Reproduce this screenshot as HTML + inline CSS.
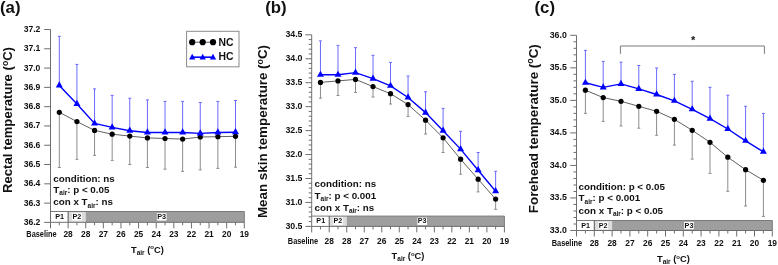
<!DOCTYPE html>
<html><head><meta charset="utf-8"><style>
html,body{margin:0;padding:0;background:#fff;width:778px;height:265px;overflow:hidden}
svg{display:block;filter:blur(0.4px)}
text{font-family:'Liberation Sans',sans-serif;font-weight:bold;fill:#111}
</style></head><body>
<svg width="778" height="265" viewBox="0 0 778 265">
<defs>
<pattern id="hatch" width="2.5" height="2.5" patternUnits="userSpaceOnUse">
<rect width="2.5" height="2.5" fill="#a4a4a4"/>
<path d="M0,0 L2.5,2.5 M2.5,0 L0,2.5" stroke="#939393" stroke-width="0.5"/>
</pattern>
</defs>
<rect x="50.5" y="211.5" width="17.62" height="10.8" fill="#fff"/>
<rect x="68.12" y="211.5" width="17.62" height="10.8" fill="#dcdcdc"/>
<rect x="85.74" y="211.5" width="158.56" height="10.8" fill="url(#hatch)"/>
<line x1="50.5" y1="211.5" x2="244.3" y2="211.5" stroke="#7a7a7a" stroke-width="1" />
<line x1="244.3" y1="211.5" x2="244.3" y2="222.3" stroke="#7a7a7a" stroke-width="1" />
<line x1="68.12" y1="211.5" x2="68.12" y2="222.3" stroke="#555" stroke-width="1" />
<rect x="54.81" y="213.2" width="9.6" height="7.4" fill="#fff"/>
<text x="59.61" y="219" font-size="7.2" text-anchor="middle" >P1</text>
<rect x="72.13" y="213.2" width="9.6" height="7.4" fill="#fff"/>
<text x="76.93" y="219" font-size="7.2" text-anchor="middle" >P2</text>
<rect x="156.9" y="213.2" width="9.6" height="7.4" fill="#fff"/>
<text x="161.7" y="219" font-size="7.2" text-anchor="middle" >P3</text>
<line x1="59.31" y1="112.3" x2="59.31" y2="167.5" stroke="#8c8c8c" stroke-width="1" />
<line x1="57.81" y1="167.5" x2="60.81" y2="167.5" stroke="#8c8c8c" stroke-width="1" />
<line x1="76.93" y1="121.6" x2="76.93" y2="159.3" stroke="#8c8c8c" stroke-width="1" />
<line x1="75.43" y1="159.3" x2="78.43" y2="159.3" stroke="#8c8c8c" stroke-width="1" />
<line x1="94.55" y1="130.4" x2="94.55" y2="155.4" stroke="#8c8c8c" stroke-width="1" />
<line x1="93.05" y1="155.4" x2="96.05" y2="155.4" stroke="#8c8c8c" stroke-width="1" />
<line x1="112.16" y1="134.2" x2="112.16" y2="160.4" stroke="#8c8c8c" stroke-width="1" />
<line x1="110.66" y1="160.4" x2="113.66" y2="160.4" stroke="#8c8c8c" stroke-width="1" />
<line x1="129.78" y1="136.1" x2="129.78" y2="164.5" stroke="#8c8c8c" stroke-width="1" />
<line x1="128.28" y1="164.5" x2="131.28" y2="164.5" stroke="#8c8c8c" stroke-width="1" />
<line x1="147.4" y1="137.9" x2="147.4" y2="167.5" stroke="#8c8c8c" stroke-width="1" />
<line x1="145.9" y1="167.5" x2="148.9" y2="167.5" stroke="#8c8c8c" stroke-width="1" />
<line x1="165.02" y1="138.5" x2="165.02" y2="169.2" stroke="#8c8c8c" stroke-width="1" />
<line x1="163.52" y1="169.2" x2="166.52" y2="169.2" stroke="#8c8c8c" stroke-width="1" />
<line x1="182.64" y1="139.1" x2="182.64" y2="171.4" stroke="#8c8c8c" stroke-width="1" />
<line x1="181.14" y1="171.4" x2="184.14" y2="171.4" stroke="#8c8c8c" stroke-width="1" />
<line x1="200.25" y1="137" x2="200.25" y2="169.9" stroke="#8c8c8c" stroke-width="1" />
<line x1="198.75" y1="169.9" x2="201.75" y2="169.9" stroke="#8c8c8c" stroke-width="1" />
<line x1="217.87" y1="136.7" x2="217.87" y2="168.4" stroke="#8c8c8c" stroke-width="1" />
<line x1="216.37" y1="168.4" x2="219.37" y2="168.4" stroke="#8c8c8c" stroke-width="1" />
<line x1="235.49" y1="136.3" x2="235.49" y2="167.2" stroke="#8c8c8c" stroke-width="1" />
<line x1="233.99" y1="167.2" x2="236.99" y2="167.2" stroke="#8c8c8c" stroke-width="1" />
<line x1="59.31" y1="85.5" x2="59.31" y2="36.3" stroke="#6a6aff" stroke-width="1" />
<line x1="57.81" y1="36.3" x2="60.81" y2="36.3" stroke="#6a6aff" stroke-width="1" />
<line x1="76.93" y1="104" x2="76.93" y2="64.4" stroke="#6a6aff" stroke-width="1" />
<line x1="75.43" y1="64.4" x2="78.43" y2="64.4" stroke="#6a6aff" stroke-width="1" />
<line x1="94.55" y1="123.4" x2="94.55" y2="88.9" stroke="#6a6aff" stroke-width="1" />
<line x1="93.05" y1="88.9" x2="96.05" y2="88.9" stroke="#6a6aff" stroke-width="1" />
<line x1="112.16" y1="127.4" x2="112.16" y2="95.4" stroke="#6a6aff" stroke-width="1" />
<line x1="110.66" y1="95.4" x2="113.66" y2="95.4" stroke="#6a6aff" stroke-width="1" />
<line x1="129.78" y1="130.7" x2="129.78" y2="98.2" stroke="#6a6aff" stroke-width="1" />
<line x1="128.28" y1="98.2" x2="131.28" y2="98.2" stroke="#6a6aff" stroke-width="1" />
<line x1="147.4" y1="132.5" x2="147.4" y2="99.9" stroke="#6a6aff" stroke-width="1" />
<line x1="145.9" y1="99.9" x2="148.9" y2="99.9" stroke="#6a6aff" stroke-width="1" />
<line x1="165.02" y1="132.5" x2="165.02" y2="101.4" stroke="#6a6aff" stroke-width="1" />
<line x1="163.52" y1="101.4" x2="166.52" y2="101.4" stroke="#6a6aff" stroke-width="1" />
<line x1="182.64" y1="132.5" x2="182.64" y2="101.4" stroke="#6a6aff" stroke-width="1" />
<line x1="181.14" y1="101.4" x2="184.14" y2="101.4" stroke="#6a6aff" stroke-width="1" />
<line x1="200.25" y1="133.4" x2="200.25" y2="102.5" stroke="#6a6aff" stroke-width="1" />
<line x1="198.75" y1="102.5" x2="201.75" y2="102.5" stroke="#6a6aff" stroke-width="1" />
<line x1="217.87" y1="132.5" x2="217.87" y2="101.4" stroke="#6a6aff" stroke-width="1" />
<line x1="216.37" y1="101.4" x2="219.37" y2="101.4" stroke="#6a6aff" stroke-width="1" />
<line x1="235.49" y1="132.2" x2="235.49" y2="100.5" stroke="#6a6aff" stroke-width="1" />
<line x1="233.99" y1="100.5" x2="236.99" y2="100.5" stroke="#6a6aff" stroke-width="1" />
<polyline points="59.31,112.3 76.93,121.6 94.55,130.4 112.16,134.2 129.78,136.1 147.4,137.9 165.02,138.5 182.64,139.1 200.25,137 217.87,136.7 235.49,136.3" fill="none" stroke="#606060" stroke-width="1"/>
<polyline points="59.31,85.5 76.93,104 94.55,123.4 112.16,127.4 129.78,130.7 147.4,132.5 165.02,132.5 182.64,132.5 200.25,133.4 217.87,132.5 235.49,132.2" fill="none" stroke="#0000ff" stroke-width="1.4"/>
<circle cx="59.31" cy="112.3" r="2.6" fill="#000"/>
<circle cx="76.93" cy="121.6" r="2.6" fill="#000"/>
<circle cx="94.55" cy="130.4" r="2.6" fill="#000"/>
<circle cx="112.16" cy="134.2" r="2.6" fill="#000"/>
<circle cx="129.78" cy="136.1" r="2.6" fill="#000"/>
<circle cx="147.4" cy="137.9" r="2.6" fill="#000"/>
<circle cx="165.02" cy="138.5" r="2.6" fill="#000"/>
<circle cx="182.64" cy="139.1" r="2.6" fill="#000"/>
<circle cx="200.25" cy="137" r="2.6" fill="#000"/>
<circle cx="217.87" cy="136.7" r="2.6" fill="#000"/>
<circle cx="235.49" cy="136.3" r="2.6" fill="#000"/>
<polygon points="59.31,81.37 55.81,87.57 62.81,87.57" fill="#0000ff"/>
<polygon points="76.93,99.87 73.43,106.07 80.43,106.07" fill="#0000ff"/>
<polygon points="94.55,119.27 91.05,125.47 98.05,125.47" fill="#0000ff"/>
<polygon points="112.16,123.27 108.66,129.47 115.66,129.47" fill="#0000ff"/>
<polygon points="129.78,126.57 126.28,132.77 133.28,132.77" fill="#0000ff"/>
<polygon points="147.4,128.37 143.9,134.57 150.9,134.57" fill="#0000ff"/>
<polygon points="165.02,128.37 161.52,134.57 168.52,134.57" fill="#0000ff"/>
<polygon points="182.64,128.37 179.14,134.57 186.14,134.57" fill="#0000ff"/>
<polygon points="200.25,129.27 196.75,135.47 203.75,135.47" fill="#0000ff"/>
<polygon points="217.87,128.37 214.37,134.57 221.37,134.57" fill="#0000ff"/>
<polygon points="235.49,128.07 231.99,134.27 238.99,134.27" fill="#0000ff"/>
<line x1="50.5" y1="29.5" x2="50.5" y2="222.3" stroke="#6e6e6e" stroke-width="1" />
<line x1="50.5" y1="222.3" x2="244.3" y2="222.3" stroke="#6e6e6e" stroke-width="1" />
<line x1="44.2" y1="29.5" x2="50.5" y2="29.5" stroke="#6e6e6e" stroke-width="1" />
<text x="40.4" y="32" font-size="8.6" text-anchor="end" >37.2</text>
<line x1="44.2" y1="48.79" x2="50.5" y2="48.79" stroke="#6e6e6e" stroke-width="1" />
<text x="40.4" y="51.29" font-size="8.6" text-anchor="end" >37.1</text>
<line x1="44.2" y1="68.08" x2="50.5" y2="68.08" stroke="#6e6e6e" stroke-width="1" />
<text x="40.4" y="70.58" font-size="8.6" text-anchor="end" >37.0</text>
<line x1="44.2" y1="87.37" x2="50.5" y2="87.37" stroke="#6e6e6e" stroke-width="1" />
<text x="40.4" y="89.87" font-size="8.6" text-anchor="end" >36.9</text>
<line x1="44.2" y1="106.66" x2="50.5" y2="106.66" stroke="#6e6e6e" stroke-width="1" />
<text x="40.4" y="109.16" font-size="8.6" text-anchor="end" >36.8</text>
<line x1="44.2" y1="125.95" x2="50.5" y2="125.95" stroke="#6e6e6e" stroke-width="1" />
<text x="40.4" y="128.45" font-size="8.6" text-anchor="end" >36.7</text>
<line x1="44.2" y1="145.24" x2="50.5" y2="145.24" stroke="#6e6e6e" stroke-width="1" />
<text x="40.4" y="147.74" font-size="8.6" text-anchor="end" >36.6</text>
<line x1="44.2" y1="164.53" x2="50.5" y2="164.53" stroke="#6e6e6e" stroke-width="1" />
<text x="40.4" y="167.03" font-size="8.6" text-anchor="end" >36.5</text>
<line x1="44.2" y1="183.82" x2="50.5" y2="183.82" stroke="#6e6e6e" stroke-width="1" />
<text x="40.4" y="186.32" font-size="8.6" text-anchor="end" >36.4</text>
<line x1="44.2" y1="203.11" x2="50.5" y2="203.11" stroke="#6e6e6e" stroke-width="1" />
<text x="40.4" y="205.61" font-size="8.6" text-anchor="end" >36.3</text>
<line x1="44.2" y1="222.4" x2="50.5" y2="222.4" stroke="#6e6e6e" stroke-width="1" />
<text x="40.4" y="224.9" font-size="8.6" text-anchor="end" >36.2</text>
<line x1="50.5" y1="222.3" x2="50.5" y2="228.3" stroke="#6e6e6e" stroke-width="1" />
<line x1="68.12" y1="222.3" x2="68.12" y2="228.3" stroke="#6e6e6e" stroke-width="1" />
<line x1="85.74" y1="222.3" x2="85.74" y2="228.3" stroke="#6e6e6e" stroke-width="1" />
<line x1="103.35" y1="222.3" x2="103.35" y2="228.3" stroke="#6e6e6e" stroke-width="1" />
<line x1="120.97" y1="222.3" x2="120.97" y2="228.3" stroke="#6e6e6e" stroke-width="1" />
<line x1="138.59" y1="222.3" x2="138.59" y2="228.3" stroke="#6e6e6e" stroke-width="1" />
<line x1="156.21" y1="222.3" x2="156.21" y2="228.3" stroke="#6e6e6e" stroke-width="1" />
<line x1="173.83" y1="222.3" x2="173.83" y2="228.3" stroke="#6e6e6e" stroke-width="1" />
<line x1="191.45" y1="222.3" x2="191.45" y2="228.3" stroke="#6e6e6e" stroke-width="1" />
<line x1="209.06" y1="222.3" x2="209.06" y2="228.3" stroke="#6e6e6e" stroke-width="1" />
<line x1="226.68" y1="222.3" x2="226.68" y2="228.3" stroke="#6e6e6e" stroke-width="1" />
<line x1="244.3" y1="222.3" x2="244.3" y2="228.3" stroke="#6e6e6e" stroke-width="1" />
<line x1="59.31" y1="222.3" x2="59.31" y2="225.3" stroke="#6e6e6e" stroke-width="1" />
<line x1="76.93" y1="222.3" x2="76.93" y2="225.3" stroke="#6e6e6e" stroke-width="1" />
<line x1="94.55" y1="222.3" x2="94.55" y2="225.3" stroke="#6e6e6e" stroke-width="1" />
<line x1="112.16" y1="222.3" x2="112.16" y2="225.3" stroke="#6e6e6e" stroke-width="1" />
<line x1="129.78" y1="222.3" x2="129.78" y2="225.3" stroke="#6e6e6e" stroke-width="1" />
<line x1="147.4" y1="222.3" x2="147.4" y2="225.3" stroke="#6e6e6e" stroke-width="1" />
<line x1="165.02" y1="222.3" x2="165.02" y2="225.3" stroke="#6e6e6e" stroke-width="1" />
<line x1="182.64" y1="222.3" x2="182.64" y2="225.3" stroke="#6e6e6e" stroke-width="1" />
<line x1="200.25" y1="222.3" x2="200.25" y2="225.3" stroke="#6e6e6e" stroke-width="1" />
<line x1="217.87" y1="222.3" x2="217.87" y2="225.3" stroke="#6e6e6e" stroke-width="1" />
<line x1="235.49" y1="222.3" x2="235.49" y2="225.3" stroke="#6e6e6e" stroke-width="1" />
<text x="68.12" y="236.9" font-size="8.4" text-anchor="middle" >28</text>
<text x="85.74" y="236.9" font-size="8.4" text-anchor="middle" >28</text>
<text x="103.35" y="236.9" font-size="8.4" text-anchor="middle" >27</text>
<text x="120.97" y="236.9" font-size="8.4" text-anchor="middle" >26</text>
<text x="138.59" y="236.9" font-size="8.4" text-anchor="middle" >25</text>
<text x="156.21" y="236.9" font-size="8.4" text-anchor="middle" >24</text>
<text x="173.83" y="236.9" font-size="8.4" text-anchor="middle" >23</text>
<text x="191.45" y="236.9" font-size="8.4" text-anchor="middle" >22</text>
<text x="209.06" y="236.9" font-size="8.4" text-anchor="middle" >21</text>
<text x="226.68" y="236.9" font-size="8.4" text-anchor="middle" >20</text>
<text x="244.3" y="236.9" font-size="8.4" text-anchor="middle" >19</text>
<text x="26.3" y="236.9" font-size="8.4" text-anchor="start" textLength="30.4" lengthAdjust="spacingAndGlyphs">Baseline</text>
<text x="53.3" y="181.6" font-size="9.8" text-anchor="start" >condition: ns</text>
<text x="53.3" y="193.1" font-size="9.8" text-anchor="start" >T<tspan font-size="6.5" dy="2.2">air</tspan><tspan dy="-2.2">: p &lt; 0.05</tspan></text>
<text x="53.3" y="205.4" font-size="9.8" text-anchor="start" >con x T<tspan font-size="6.5" dy="2.2">air</tspan><tspan dy="-2.2">: ns</tspan></text>
<text x="131" y="252.6" font-size="9.3" text-anchor="start" >T<tspan font-size="6.5" dy="2.2">air</tspan><tspan dy="-2.2"> (</tspan><tspan font-size="6" dy="-3.2">o</tspan><tspan dy="3.2">C)</tspan></text>
<text transform="translate(12,120) rotate(-90)" x="0" y="0" font-size="13" text-anchor="middle" textLength="146" lengthAdjust="spacingAndGlyphs">Rectal temperature (<tspan font-size="8.5" dy="-4.5">o</tspan><tspan dy="4.5">C)</tspan></text>
<text x="0" y="12.8" font-size="16.8" text-anchor="start" >(a)</text>
<rect x="311.7" y="216.1" width="17.52" height="10.3" fill="#fff"/>
<rect x="329.22" y="216.1" width="17.52" height="10.3" fill="#dcdcdc"/>
<rect x="346.74" y="216.1" width="157.66" height="10.3" fill="url(#hatch)"/>
<line x1="311.7" y1="216.1" x2="504.4" y2="216.1" stroke="#7a7a7a" stroke-width="1" />
<line x1="504.4" y1="216.1" x2="504.4" y2="226.4" stroke="#7a7a7a" stroke-width="1" />
<line x1="329.22" y1="216.1" x2="329.22" y2="226.4" stroke="#555" stroke-width="1" />
<rect x="315.96" y="217.55" width="9.6" height="7.4" fill="#fff"/>
<text x="320.76" y="223.35" font-size="7.2" text-anchor="middle" >P1</text>
<rect x="333.18" y="217.55" width="9.6" height="7.4" fill="#fff"/>
<text x="337.98" y="223.35" font-size="7.2" text-anchor="middle" >P2</text>
<rect x="417.4" y="217.55" width="9.6" height="7.4" fill="#fff"/>
<text x="422.2" y="223.35" font-size="7.2" text-anchor="middle" >P3</text>
<line x1="320.46" y1="82.4" x2="320.46" y2="98.2" stroke="#8c8c8c" stroke-width="1" />
<line x1="318.96" y1="98.2" x2="321.96" y2="98.2" stroke="#8c8c8c" stroke-width="1" />
<line x1="337.98" y1="80.9" x2="337.98" y2="95.5" stroke="#8c8c8c" stroke-width="1" />
<line x1="336.48" y1="95.5" x2="339.48" y2="95.5" stroke="#8c8c8c" stroke-width="1" />
<line x1="355.5" y1="79.4" x2="355.5" y2="92.5" stroke="#8c8c8c" stroke-width="1" />
<line x1="354" y1="92.5" x2="357" y2="92.5" stroke="#8c8c8c" stroke-width="1" />
<line x1="373.01" y1="86.6" x2="373.01" y2="97" stroke="#8c8c8c" stroke-width="1" />
<line x1="371.51" y1="97" x2="374.51" y2="97" stroke="#8c8c8c" stroke-width="1" />
<line x1="390.53" y1="93.7" x2="390.53" y2="104" stroke="#8c8c8c" stroke-width="1" />
<line x1="389.03" y1="104" x2="392.03" y2="104" stroke="#8c8c8c" stroke-width="1" />
<line x1="408.05" y1="104.6" x2="408.05" y2="116.4" stroke="#8c8c8c" stroke-width="1" />
<line x1="406.55" y1="116.4" x2="409.55" y2="116.4" stroke="#8c8c8c" stroke-width="1" />
<line x1="425.57" y1="120.2" x2="425.57" y2="134" stroke="#8c8c8c" stroke-width="1" />
<line x1="424.07" y1="134" x2="427.07" y2="134" stroke="#8c8c8c" stroke-width="1" />
<line x1="443.09" y1="137.8" x2="443.09" y2="152.5" stroke="#8c8c8c" stroke-width="1" />
<line x1="441.59" y1="152.5" x2="444.59" y2="152.5" stroke="#8c8c8c" stroke-width="1" />
<line x1="460.6" y1="159.2" x2="460.6" y2="174.2" stroke="#8c8c8c" stroke-width="1" />
<line x1="459.1" y1="174.2" x2="462.1" y2="174.2" stroke="#8c8c8c" stroke-width="1" />
<line x1="478.12" y1="179.2" x2="478.12" y2="191.9" stroke="#8c8c8c" stroke-width="1" />
<line x1="476.62" y1="191.9" x2="479.62" y2="191.9" stroke="#8c8c8c" stroke-width="1" />
<line x1="495.64" y1="199.1" x2="495.64" y2="209.3" stroke="#8c8c8c" stroke-width="1" />
<line x1="494.14" y1="209.3" x2="497.14" y2="209.3" stroke="#8c8c8c" stroke-width="1" />
<line x1="320.46" y1="74.8" x2="320.46" y2="40.9" stroke="#6a6aff" stroke-width="1" />
<line x1="318.96" y1="40.9" x2="321.96" y2="40.9" stroke="#6a6aff" stroke-width="1" />
<line x1="337.98" y1="74.8" x2="337.98" y2="45.4" stroke="#6a6aff" stroke-width="1" />
<line x1="336.48" y1="45.4" x2="339.48" y2="45.4" stroke="#6a6aff" stroke-width="1" />
<line x1="355.5" y1="72.6" x2="355.5" y2="47.7" stroke="#6a6aff" stroke-width="1" />
<line x1="354" y1="47.7" x2="357" y2="47.7" stroke="#6a6aff" stroke-width="1" />
<line x1="373.01" y1="78.6" x2="373.01" y2="55.3" stroke="#6a6aff" stroke-width="1" />
<line x1="371.51" y1="55.3" x2="374.51" y2="55.3" stroke="#6a6aff" stroke-width="1" />
<line x1="390.53" y1="85.8" x2="390.53" y2="62.4" stroke="#6a6aff" stroke-width="1" />
<line x1="389.03" y1="62.4" x2="392.03" y2="62.4" stroke="#6a6aff" stroke-width="1" />
<line x1="408.05" y1="97.5" x2="408.05" y2="76" stroke="#6a6aff" stroke-width="1" />
<line x1="406.55" y1="76" x2="409.55" y2="76" stroke="#6a6aff" stroke-width="1" />
<line x1="425.57" y1="112.6" x2="425.57" y2="91.8" stroke="#6a6aff" stroke-width="1" />
<line x1="424.07" y1="91.8" x2="427.07" y2="91.8" stroke="#6a6aff" stroke-width="1" />
<line x1="443.09" y1="130.7" x2="443.09" y2="108.4" stroke="#6a6aff" stroke-width="1" />
<line x1="441.59" y1="108.4" x2="444.59" y2="108.4" stroke="#6a6aff" stroke-width="1" />
<line x1="460.6" y1="149.1" x2="460.6" y2="131.3" stroke="#6a6aff" stroke-width="1" />
<line x1="459.1" y1="131.3" x2="462.1" y2="131.3" stroke="#6a6aff" stroke-width="1" />
<line x1="478.12" y1="170.2" x2="478.12" y2="152.5" stroke="#6a6aff" stroke-width="1" />
<line x1="476.62" y1="152.5" x2="479.62" y2="152.5" stroke="#6a6aff" stroke-width="1" />
<line x1="495.64" y1="191.2" x2="495.64" y2="171.3" stroke="#6a6aff" stroke-width="1" />
<line x1="494.14" y1="171.3" x2="497.14" y2="171.3" stroke="#6a6aff" stroke-width="1" />
<polyline points="320.46,82.4 337.98,80.9 355.5,79.4 373.01,86.6 390.53,93.7 408.05,104.6 425.57,120.2 443.09,137.8 460.6,159.2 478.12,179.2 495.64,199.1" fill="none" stroke="#606060" stroke-width="1"/>
<polyline points="320.46,74.8 337.98,74.8 355.5,72.6 373.01,78.6 390.53,85.8 408.05,97.5 425.57,112.6 443.09,130.7 460.6,149.1 478.12,170.2 495.64,191.2" fill="none" stroke="#0000ff" stroke-width="1.4"/>
<circle cx="320.46" cy="82.4" r="2.6" fill="#000"/>
<circle cx="337.98" cy="80.9" r="2.6" fill="#000"/>
<circle cx="355.5" cy="79.4" r="2.6" fill="#000"/>
<circle cx="373.01" cy="86.6" r="2.6" fill="#000"/>
<circle cx="390.53" cy="93.7" r="2.6" fill="#000"/>
<circle cx="408.05" cy="104.6" r="2.6" fill="#000"/>
<circle cx="425.57" cy="120.2" r="2.6" fill="#000"/>
<circle cx="443.09" cy="137.8" r="2.6" fill="#000"/>
<circle cx="460.6" cy="159.2" r="2.6" fill="#000"/>
<circle cx="478.12" cy="179.2" r="2.6" fill="#000"/>
<circle cx="495.64" cy="199.1" r="2.6" fill="#000"/>
<polygon points="320.46,70.67 316.96,76.87 323.96,76.87" fill="#0000ff"/>
<polygon points="337.98,70.67 334.48,76.87 341.48,76.87" fill="#0000ff"/>
<polygon points="355.5,68.47 352,74.67 359,74.67" fill="#0000ff"/>
<polygon points="373.01,74.47 369.51,80.67 376.51,80.67" fill="#0000ff"/>
<polygon points="390.53,81.67 387.03,87.87 394.03,87.87" fill="#0000ff"/>
<polygon points="408.05,93.37 404.55,99.57 411.55,99.57" fill="#0000ff"/>
<polygon points="425.57,108.47 422.07,114.67 429.07,114.67" fill="#0000ff"/>
<polygon points="443.09,126.57 439.59,132.77 446.59,132.77" fill="#0000ff"/>
<polygon points="460.6,144.97 457.1,151.17 464.1,151.17" fill="#0000ff"/>
<polygon points="478.12,166.07 474.62,172.27 481.62,172.27" fill="#0000ff"/>
<polygon points="495.64,187.07 492.14,193.27 499.14,193.27" fill="#0000ff"/>
<line x1="311.7" y1="34.8" x2="311.7" y2="226.4" stroke="#6e6e6e" stroke-width="1" />
<line x1="311.7" y1="226.4" x2="504.4" y2="226.4" stroke="#6e6e6e" stroke-width="1" />
<line x1="305.4" y1="34.8" x2="311.7" y2="34.8" stroke="#6e6e6e" stroke-width="1" />
<text x="302.5" y="37.3" font-size="8.8" text-anchor="end" >34.5</text>
<line x1="305.4" y1="58.75" x2="311.7" y2="58.75" stroke="#6e6e6e" stroke-width="1" />
<text x="302.5" y="61.25" font-size="8.8" text-anchor="end" >34.0</text>
<line x1="305.4" y1="82.7" x2="311.7" y2="82.7" stroke="#6e6e6e" stroke-width="1" />
<text x="302.5" y="85.2" font-size="8.8" text-anchor="end" >33.5</text>
<line x1="305.4" y1="106.65" x2="311.7" y2="106.65" stroke="#6e6e6e" stroke-width="1" />
<text x="302.5" y="109.15" font-size="8.8" text-anchor="end" >33.0</text>
<line x1="305.4" y1="130.6" x2="311.7" y2="130.6" stroke="#6e6e6e" stroke-width="1" />
<text x="302.5" y="133.1" font-size="8.8" text-anchor="end" >32.5</text>
<line x1="305.4" y1="154.55" x2="311.7" y2="154.55" stroke="#6e6e6e" stroke-width="1" />
<text x="302.5" y="157.05" font-size="8.8" text-anchor="end" >32.0</text>
<line x1="305.4" y1="178.5" x2="311.7" y2="178.5" stroke="#6e6e6e" stroke-width="1" />
<text x="302.5" y="181" font-size="8.8" text-anchor="end" >31.5</text>
<line x1="305.4" y1="202.45" x2="311.7" y2="202.45" stroke="#6e6e6e" stroke-width="1" />
<text x="302.5" y="204.95" font-size="8.8" text-anchor="end" >31.0</text>
<line x1="305.4" y1="226.4" x2="311.7" y2="226.4" stroke="#6e6e6e" stroke-width="1" />
<text x="302.5" y="228.9" font-size="8.8" text-anchor="end" >30.5</text>
<line x1="308.7" y1="39.59" x2="311.7" y2="39.59" stroke="#6e6e6e" stroke-width="1" />
<line x1="308.7" y1="44.38" x2="311.7" y2="44.38" stroke="#6e6e6e" stroke-width="1" />
<line x1="308.7" y1="49.17" x2="311.7" y2="49.17" stroke="#6e6e6e" stroke-width="1" />
<line x1="308.7" y1="53.96" x2="311.7" y2="53.96" stroke="#6e6e6e" stroke-width="1" />
<line x1="308.7" y1="63.54" x2="311.7" y2="63.54" stroke="#6e6e6e" stroke-width="1" />
<line x1="308.7" y1="68.33" x2="311.7" y2="68.33" stroke="#6e6e6e" stroke-width="1" />
<line x1="308.7" y1="73.12" x2="311.7" y2="73.12" stroke="#6e6e6e" stroke-width="1" />
<line x1="308.7" y1="77.91" x2="311.7" y2="77.91" stroke="#6e6e6e" stroke-width="1" />
<line x1="308.7" y1="87.49" x2="311.7" y2="87.49" stroke="#6e6e6e" stroke-width="1" />
<line x1="308.7" y1="92.28" x2="311.7" y2="92.28" stroke="#6e6e6e" stroke-width="1" />
<line x1="308.7" y1="97.07" x2="311.7" y2="97.07" stroke="#6e6e6e" stroke-width="1" />
<line x1="308.7" y1="101.86" x2="311.7" y2="101.86" stroke="#6e6e6e" stroke-width="1" />
<line x1="308.7" y1="111.44" x2="311.7" y2="111.44" stroke="#6e6e6e" stroke-width="1" />
<line x1="308.7" y1="116.23" x2="311.7" y2="116.23" stroke="#6e6e6e" stroke-width="1" />
<line x1="308.7" y1="121.02" x2="311.7" y2="121.02" stroke="#6e6e6e" stroke-width="1" />
<line x1="308.7" y1="125.81" x2="311.7" y2="125.81" stroke="#6e6e6e" stroke-width="1" />
<line x1="308.7" y1="135.39" x2="311.7" y2="135.39" stroke="#6e6e6e" stroke-width="1" />
<line x1="308.7" y1="140.18" x2="311.7" y2="140.18" stroke="#6e6e6e" stroke-width="1" />
<line x1="308.7" y1="144.97" x2="311.7" y2="144.97" stroke="#6e6e6e" stroke-width="1" />
<line x1="308.7" y1="149.76" x2="311.7" y2="149.76" stroke="#6e6e6e" stroke-width="1" />
<line x1="308.7" y1="159.34" x2="311.7" y2="159.34" stroke="#6e6e6e" stroke-width="1" />
<line x1="308.7" y1="164.13" x2="311.7" y2="164.13" stroke="#6e6e6e" stroke-width="1" />
<line x1="308.7" y1="168.92" x2="311.7" y2="168.92" stroke="#6e6e6e" stroke-width="1" />
<line x1="308.7" y1="173.71" x2="311.7" y2="173.71" stroke="#6e6e6e" stroke-width="1" />
<line x1="308.7" y1="183.29" x2="311.7" y2="183.29" stroke="#6e6e6e" stroke-width="1" />
<line x1="308.7" y1="188.08" x2="311.7" y2="188.08" stroke="#6e6e6e" stroke-width="1" />
<line x1="308.7" y1="192.87" x2="311.7" y2="192.87" stroke="#6e6e6e" stroke-width="1" />
<line x1="308.7" y1="197.66" x2="311.7" y2="197.66" stroke="#6e6e6e" stroke-width="1" />
<line x1="308.7" y1="207.24" x2="311.7" y2="207.24" stroke="#6e6e6e" stroke-width="1" />
<line x1="308.7" y1="212.03" x2="311.7" y2="212.03" stroke="#6e6e6e" stroke-width="1" />
<line x1="308.7" y1="216.82" x2="311.7" y2="216.82" stroke="#6e6e6e" stroke-width="1" />
<line x1="308.7" y1="221.61" x2="311.7" y2="221.61" stroke="#6e6e6e" stroke-width="1" />
<line x1="311.7" y1="226.4" x2="311.7" y2="232.4" stroke="#6e6e6e" stroke-width="1" />
<line x1="329.22" y1="226.4" x2="329.22" y2="232.4" stroke="#6e6e6e" stroke-width="1" />
<line x1="346.74" y1="226.4" x2="346.74" y2="232.4" stroke="#6e6e6e" stroke-width="1" />
<line x1="364.25" y1="226.4" x2="364.25" y2="232.4" stroke="#6e6e6e" stroke-width="1" />
<line x1="381.77" y1="226.4" x2="381.77" y2="232.4" stroke="#6e6e6e" stroke-width="1" />
<line x1="399.29" y1="226.4" x2="399.29" y2="232.4" stroke="#6e6e6e" stroke-width="1" />
<line x1="416.81" y1="226.4" x2="416.81" y2="232.4" stroke="#6e6e6e" stroke-width="1" />
<line x1="434.33" y1="226.4" x2="434.33" y2="232.4" stroke="#6e6e6e" stroke-width="1" />
<line x1="451.85" y1="226.4" x2="451.85" y2="232.4" stroke="#6e6e6e" stroke-width="1" />
<line x1="469.36" y1="226.4" x2="469.36" y2="232.4" stroke="#6e6e6e" stroke-width="1" />
<line x1="486.88" y1="226.4" x2="486.88" y2="232.4" stroke="#6e6e6e" stroke-width="1" />
<line x1="504.4" y1="226.4" x2="504.4" y2="232.4" stroke="#6e6e6e" stroke-width="1" />
<line x1="320.46" y1="226.4" x2="320.46" y2="229.4" stroke="#6e6e6e" stroke-width="1" />
<line x1="337.98" y1="226.4" x2="337.98" y2="229.4" stroke="#6e6e6e" stroke-width="1" />
<line x1="355.5" y1="226.4" x2="355.5" y2="229.4" stroke="#6e6e6e" stroke-width="1" />
<line x1="373.01" y1="226.4" x2="373.01" y2="229.4" stroke="#6e6e6e" stroke-width="1" />
<line x1="390.53" y1="226.4" x2="390.53" y2="229.4" stroke="#6e6e6e" stroke-width="1" />
<line x1="408.05" y1="226.4" x2="408.05" y2="229.4" stroke="#6e6e6e" stroke-width="1" />
<line x1="425.57" y1="226.4" x2="425.57" y2="229.4" stroke="#6e6e6e" stroke-width="1" />
<line x1="443.09" y1="226.4" x2="443.09" y2="229.4" stroke="#6e6e6e" stroke-width="1" />
<line x1="460.6" y1="226.4" x2="460.6" y2="229.4" stroke="#6e6e6e" stroke-width="1" />
<line x1="478.12" y1="226.4" x2="478.12" y2="229.4" stroke="#6e6e6e" stroke-width="1" />
<line x1="495.64" y1="226.4" x2="495.64" y2="229.4" stroke="#6e6e6e" stroke-width="1" />
<text x="329.22" y="243.5" font-size="8.4" text-anchor="middle" >28</text>
<text x="346.74" y="243.5" font-size="8.4" text-anchor="middle" >28</text>
<text x="364.25" y="243.5" font-size="8.4" text-anchor="middle" >27</text>
<text x="381.77" y="243.5" font-size="8.4" text-anchor="middle" >26</text>
<text x="399.29" y="243.5" font-size="8.4" text-anchor="middle" >25</text>
<text x="416.81" y="243.5" font-size="8.4" text-anchor="middle" >24</text>
<text x="434.33" y="243.5" font-size="8.4" text-anchor="middle" >23</text>
<text x="451.85" y="243.5" font-size="8.4" text-anchor="middle" >22</text>
<text x="469.36" y="243.5" font-size="8.4" text-anchor="middle" >21</text>
<text x="486.88" y="243.5" font-size="8.4" text-anchor="middle" >20</text>
<text x="504.4" y="243.5" font-size="8.4" text-anchor="middle" >19</text>
<text x="287.8" y="243.5" font-size="8.4" text-anchor="start" textLength="30.4" lengthAdjust="spacingAndGlyphs">Baseline</text>
<text x="314.6" y="187.4" font-size="9.8" text-anchor="start" >condition: ns</text>
<text x="314.6" y="198.8" font-size="9.8" text-anchor="start" >T<tspan font-size="6.5" dy="2.2">air</tspan><tspan dy="-2.2">: p &lt; 0.001</tspan></text>
<text x="314.6" y="210.9" font-size="9.8" text-anchor="start" >con x T<tspan font-size="6.5" dy="2.2">air</tspan><tspan dy="-2.2">: ns</tspan></text>
<text x="391.6" y="258.8" font-size="9.3" text-anchor="start" >T<tspan font-size="6.5" dy="2.2">air</tspan><tspan dy="-2.2"> (</tspan><tspan font-size="6" dy="-3.2">o</tspan><tspan dy="3.2">C)</tspan></text>
<text transform="translate(267,131.5) rotate(-90)" x="0" y="0" font-size="13" text-anchor="middle" textLength="173" lengthAdjust="spacingAndGlyphs">Mean skin temperature (<tspan font-size="8.5" dy="-4.5">o</tspan><tspan dy="4.5">C)</tspan></text>
<text x="265.2" y="12.8" font-size="16.8" text-anchor="start" >(b)</text>
<rect x="576.5" y="220.5" width="17.8" height="10" fill="#fff"/>
<rect x="594.3" y="220.5" width="17.8" height="10" fill="#dcdcdc"/>
<rect x="612.1" y="220.5" width="160.2" height="10" fill="url(#hatch)"/>
<line x1="576.5" y1="220.5" x2="772.3" y2="220.5" stroke="#7a7a7a" stroke-width="1" />
<line x1="772.3" y1="220.5" x2="772.3" y2="230.5" stroke="#7a7a7a" stroke-width="1" />
<line x1="594.3" y1="220.5" x2="594.3" y2="230.5" stroke="#555" stroke-width="1" />
<rect x="580.9" y="221.8" width="9.6" height="7.4" fill="#fff"/>
<text x="585.7" y="227.6" font-size="7.2" text-anchor="middle" >P1</text>
<rect x="598.4" y="221.8" width="9.6" height="7.4" fill="#fff"/>
<text x="603.2" y="227.6" font-size="7.2" text-anchor="middle" >P2</text>
<rect x="684.2" y="221.8" width="9.6" height="7.4" fill="#fff"/>
<text x="689" y="227.6" font-size="7.2" text-anchor="middle" >P3</text>
<line x1="585.4" y1="90.2" x2="585.4" y2="113.4" stroke="#8c8c8c" stroke-width="1" />
<line x1="583.9" y1="113.4" x2="586.9" y2="113.4" stroke="#8c8c8c" stroke-width="1" />
<line x1="603.2" y1="97.6" x2="603.2" y2="121.4" stroke="#8c8c8c" stroke-width="1" />
<line x1="601.7" y1="121.4" x2="604.7" y2="121.4" stroke="#8c8c8c" stroke-width="1" />
<line x1="621" y1="101.3" x2="621" y2="126" stroke="#8c8c8c" stroke-width="1" />
<line x1="619.5" y1="126" x2="622.5" y2="126" stroke="#8c8c8c" stroke-width="1" />
<line x1="638.8" y1="106.3" x2="638.8" y2="128.2" stroke="#8c8c8c" stroke-width="1" />
<line x1="637.3" y1="128.2" x2="640.3" y2="128.2" stroke="#8c8c8c" stroke-width="1" />
<line x1="656.6" y1="111.3" x2="656.6" y2="135.3" stroke="#8c8c8c" stroke-width="1" />
<line x1="655.1" y1="135.3" x2="658.1" y2="135.3" stroke="#8c8c8c" stroke-width="1" />
<line x1="674.4" y1="119.3" x2="674.4" y2="145.1" stroke="#8c8c8c" stroke-width="1" />
<line x1="672.9" y1="145.1" x2="675.9" y2="145.1" stroke="#8c8c8c" stroke-width="1" />
<line x1="692.2" y1="130.3" x2="692.2" y2="159.1" stroke="#8c8c8c" stroke-width="1" />
<line x1="690.7" y1="159.1" x2="693.7" y2="159.1" stroke="#8c8c8c" stroke-width="1" />
<line x1="710" y1="142.3" x2="710" y2="173.4" stroke="#8c8c8c" stroke-width="1" />
<line x1="708.5" y1="173.4" x2="711.5" y2="173.4" stroke="#8c8c8c" stroke-width="1" />
<line x1="727.8" y1="157.2" x2="727.8" y2="191.3" stroke="#8c8c8c" stroke-width="1" />
<line x1="726.3" y1="191.3" x2="729.3" y2="191.3" stroke="#8c8c8c" stroke-width="1" />
<line x1="745.6" y1="169.7" x2="745.6" y2="206" stroke="#8c8c8c" stroke-width="1" />
<line x1="744.1" y1="206" x2="747.1" y2="206" stroke="#8c8c8c" stroke-width="1" />
<line x1="763.4" y1="180.3" x2="763.4" y2="216.4" stroke="#8c8c8c" stroke-width="1" />
<line x1="761.9" y1="216.4" x2="764.9" y2="216.4" stroke="#8c8c8c" stroke-width="1" />
<line x1="585.4" y1="82.8" x2="585.4" y2="50.4" stroke="#6a6aff" stroke-width="1" />
<line x1="583.9" y1="50.4" x2="586.9" y2="50.4" stroke="#6a6aff" stroke-width="1" />
<line x1="603.2" y1="87.4" x2="603.2" y2="61.4" stroke="#6a6aff" stroke-width="1" />
<line x1="601.7" y1="61.4" x2="604.7" y2="61.4" stroke="#6a6aff" stroke-width="1" />
<line x1="621" y1="83.9" x2="621" y2="62.2" stroke="#6a6aff" stroke-width="1" />
<line x1="619.5" y1="62.2" x2="622.5" y2="62.2" stroke="#6a6aff" stroke-width="1" />
<line x1="638.8" y1="88.9" x2="638.8" y2="65.5" stroke="#6a6aff" stroke-width="1" />
<line x1="637.3" y1="65.5" x2="640.3" y2="65.5" stroke="#6a6aff" stroke-width="1" />
<line x1="656.6" y1="94.5" x2="656.6" y2="68" stroke="#6a6aff" stroke-width="1" />
<line x1="655.1" y1="68" x2="658.1" y2="68" stroke="#6a6aff" stroke-width="1" />
<line x1="674.4" y1="100.8" x2="674.4" y2="74.4" stroke="#6a6aff" stroke-width="1" />
<line x1="672.9" y1="74.4" x2="675.9" y2="74.4" stroke="#6a6aff" stroke-width="1" />
<line x1="692.2" y1="109.3" x2="692.2" y2="81.3" stroke="#6a6aff" stroke-width="1" />
<line x1="690.7" y1="81.3" x2="693.7" y2="81.3" stroke="#6a6aff" stroke-width="1" />
<line x1="710" y1="118.7" x2="710" y2="87.3" stroke="#6a6aff" stroke-width="1" />
<line x1="708.5" y1="87.3" x2="711.5" y2="87.3" stroke="#6a6aff" stroke-width="1" />
<line x1="727.8" y1="129" x2="727.8" y2="95.2" stroke="#6a6aff" stroke-width="1" />
<line x1="726.3" y1="95.2" x2="729.3" y2="95.2" stroke="#6a6aff" stroke-width="1" />
<line x1="745.6" y1="140.8" x2="745.6" y2="106.3" stroke="#6a6aff" stroke-width="1" />
<line x1="744.1" y1="106.3" x2="747.1" y2="106.3" stroke="#6a6aff" stroke-width="1" />
<line x1="763.4" y1="151.8" x2="763.4" y2="113.4" stroke="#6a6aff" stroke-width="1" />
<line x1="761.9" y1="113.4" x2="764.9" y2="113.4" stroke="#6a6aff" stroke-width="1" />
<polyline points="585.4,90.2 603.2,97.6 621,101.3 638.8,106.3 656.6,111.3 674.4,119.3 692.2,130.3 710,142.3 727.8,157.2 745.6,169.7 763.4,180.3" fill="none" stroke="#606060" stroke-width="1"/>
<polyline points="585.4,82.8 603.2,87.4 621,83.9 638.8,88.9 656.6,94.5 674.4,100.8 692.2,109.3 710,118.7 727.8,129 745.6,140.8 763.4,151.8" fill="none" stroke="#0000ff" stroke-width="1.4"/>
<circle cx="585.4" cy="90.2" r="2.6" fill="#000"/>
<circle cx="603.2" cy="97.6" r="2.6" fill="#000"/>
<circle cx="621" cy="101.3" r="2.6" fill="#000"/>
<circle cx="638.8" cy="106.3" r="2.6" fill="#000"/>
<circle cx="656.6" cy="111.3" r="2.6" fill="#000"/>
<circle cx="674.4" cy="119.3" r="2.6" fill="#000"/>
<circle cx="692.2" cy="130.3" r="2.6" fill="#000"/>
<circle cx="710" cy="142.3" r="2.6" fill="#000"/>
<circle cx="727.8" cy="157.2" r="2.6" fill="#000"/>
<circle cx="745.6" cy="169.7" r="2.6" fill="#000"/>
<circle cx="763.4" cy="180.3" r="2.6" fill="#000"/>
<polygon points="585.4,78.67 581.9,84.87 588.9,84.87" fill="#0000ff"/>
<polygon points="603.2,83.27 599.7,89.47 606.7,89.47" fill="#0000ff"/>
<polygon points="621,79.77 617.5,85.97 624.5,85.97" fill="#0000ff"/>
<polygon points="638.8,84.77 635.3,90.97 642.3,90.97" fill="#0000ff"/>
<polygon points="656.6,90.37 653.1,96.57 660.1,96.57" fill="#0000ff"/>
<polygon points="674.4,96.67 670.9,102.87 677.9,102.87" fill="#0000ff"/>
<polygon points="692.2,105.17 688.7,111.37 695.7,111.37" fill="#0000ff"/>
<polygon points="710,114.57 706.5,120.77 713.5,120.77" fill="#0000ff"/>
<polygon points="727.8,124.87 724.3,131.07 731.3,131.07" fill="#0000ff"/>
<polygon points="745.6,136.67 742.1,142.87 749.1,142.87" fill="#0000ff"/>
<polygon points="763.4,147.67 759.9,153.87 766.9,153.87" fill="#0000ff"/>
<line x1="576.5" y1="35.3" x2="576.5" y2="230.5" stroke="#6e6e6e" stroke-width="1" />
<line x1="576.5" y1="230.5" x2="772.3" y2="230.5" stroke="#6e6e6e" stroke-width="1" />
<line x1="570.2" y1="35.3" x2="576.5" y2="35.3" stroke="#6e6e6e" stroke-width="1" />
<text x="566.8" y="37.8" font-size="8.8" text-anchor="end" >36.0</text>
<line x1="570.2" y1="67.83" x2="576.5" y2="67.83" stroke="#6e6e6e" stroke-width="1" />
<text x="566.8" y="70.33" font-size="8.8" text-anchor="end" >35.5</text>
<line x1="570.2" y1="100.36" x2="576.5" y2="100.36" stroke="#6e6e6e" stroke-width="1" />
<text x="566.8" y="102.86" font-size="8.8" text-anchor="end" >35.0</text>
<line x1="570.2" y1="132.89" x2="576.5" y2="132.89" stroke="#6e6e6e" stroke-width="1" />
<text x="566.8" y="135.39" font-size="8.8" text-anchor="end" >34.5</text>
<line x1="570.2" y1="165.42" x2="576.5" y2="165.42" stroke="#6e6e6e" stroke-width="1" />
<text x="566.8" y="167.92" font-size="8.8" text-anchor="end" >34.0</text>
<line x1="570.2" y1="197.95" x2="576.5" y2="197.95" stroke="#6e6e6e" stroke-width="1" />
<text x="566.8" y="200.45" font-size="8.8" text-anchor="end" >33.5</text>
<line x1="570.2" y1="230.48" x2="576.5" y2="230.48" stroke="#6e6e6e" stroke-width="1" />
<text x="566.8" y="232.98" font-size="8.8" text-anchor="end" >33.0</text>
<line x1="573.5" y1="41.81" x2="576.5" y2="41.81" stroke="#6e6e6e" stroke-width="1" />
<line x1="573.5" y1="48.31" x2="576.5" y2="48.31" stroke="#6e6e6e" stroke-width="1" />
<line x1="573.5" y1="54.82" x2="576.5" y2="54.82" stroke="#6e6e6e" stroke-width="1" />
<line x1="573.5" y1="61.33" x2="576.5" y2="61.33" stroke="#6e6e6e" stroke-width="1" />
<line x1="573.5" y1="74.34" x2="576.5" y2="74.34" stroke="#6e6e6e" stroke-width="1" />
<line x1="573.5" y1="80.85" x2="576.5" y2="80.85" stroke="#6e6e6e" stroke-width="1" />
<line x1="573.5" y1="87.36" x2="576.5" y2="87.36" stroke="#6e6e6e" stroke-width="1" />
<line x1="573.5" y1="93.86" x2="576.5" y2="93.86" stroke="#6e6e6e" stroke-width="1" />
<line x1="573.5" y1="106.88" x2="576.5" y2="106.88" stroke="#6e6e6e" stroke-width="1" />
<line x1="573.5" y1="113.38" x2="576.5" y2="113.38" stroke="#6e6e6e" stroke-width="1" />
<line x1="573.5" y1="119.89" x2="576.5" y2="119.89" stroke="#6e6e6e" stroke-width="1" />
<line x1="573.5" y1="126.4" x2="576.5" y2="126.4" stroke="#6e6e6e" stroke-width="1" />
<line x1="573.5" y1="139.41" x2="576.5" y2="139.41" stroke="#6e6e6e" stroke-width="1" />
<line x1="573.5" y1="145.92" x2="576.5" y2="145.92" stroke="#6e6e6e" stroke-width="1" />
<line x1="573.5" y1="152.43" x2="576.5" y2="152.43" stroke="#6e6e6e" stroke-width="1" />
<line x1="573.5" y1="158.93" x2="576.5" y2="158.93" stroke="#6e6e6e" stroke-width="1" />
<line x1="573.5" y1="171.95" x2="576.5" y2="171.95" stroke="#6e6e6e" stroke-width="1" />
<line x1="573.5" y1="178.45" x2="576.5" y2="178.45" stroke="#6e6e6e" stroke-width="1" />
<line x1="573.5" y1="184.96" x2="576.5" y2="184.96" stroke="#6e6e6e" stroke-width="1" />
<line x1="573.5" y1="191.47" x2="576.5" y2="191.47" stroke="#6e6e6e" stroke-width="1" />
<line x1="573.5" y1="204.48" x2="576.5" y2="204.48" stroke="#6e6e6e" stroke-width="1" />
<line x1="573.5" y1="210.99" x2="576.5" y2="210.99" stroke="#6e6e6e" stroke-width="1" />
<line x1="573.5" y1="217.5" x2="576.5" y2="217.5" stroke="#6e6e6e" stroke-width="1" />
<line x1="573.5" y1="224" x2="576.5" y2="224" stroke="#6e6e6e" stroke-width="1" />
<line x1="576.5" y1="230.5" x2="576.5" y2="236.5" stroke="#6e6e6e" stroke-width="1" />
<line x1="594.3" y1="230.5" x2="594.3" y2="236.5" stroke="#6e6e6e" stroke-width="1" />
<line x1="612.1" y1="230.5" x2="612.1" y2="236.5" stroke="#6e6e6e" stroke-width="1" />
<line x1="629.9" y1="230.5" x2="629.9" y2="236.5" stroke="#6e6e6e" stroke-width="1" />
<line x1="647.7" y1="230.5" x2="647.7" y2="236.5" stroke="#6e6e6e" stroke-width="1" />
<line x1="665.5" y1="230.5" x2="665.5" y2="236.5" stroke="#6e6e6e" stroke-width="1" />
<line x1="683.3" y1="230.5" x2="683.3" y2="236.5" stroke="#6e6e6e" stroke-width="1" />
<line x1="701.1" y1="230.5" x2="701.1" y2="236.5" stroke="#6e6e6e" stroke-width="1" />
<line x1="718.9" y1="230.5" x2="718.9" y2="236.5" stroke="#6e6e6e" stroke-width="1" />
<line x1="736.7" y1="230.5" x2="736.7" y2="236.5" stroke="#6e6e6e" stroke-width="1" />
<line x1="754.5" y1="230.5" x2="754.5" y2="236.5" stroke="#6e6e6e" stroke-width="1" />
<line x1="772.3" y1="230.5" x2="772.3" y2="236.5" stroke="#6e6e6e" stroke-width="1" />
<line x1="585.4" y1="230.5" x2="585.4" y2="233.5" stroke="#6e6e6e" stroke-width="1" />
<line x1="603.2" y1="230.5" x2="603.2" y2="233.5" stroke="#6e6e6e" stroke-width="1" />
<line x1="621" y1="230.5" x2="621" y2="233.5" stroke="#6e6e6e" stroke-width="1" />
<line x1="638.8" y1="230.5" x2="638.8" y2="233.5" stroke="#6e6e6e" stroke-width="1" />
<line x1="656.6" y1="230.5" x2="656.6" y2="233.5" stroke="#6e6e6e" stroke-width="1" />
<line x1="674.4" y1="230.5" x2="674.4" y2="233.5" stroke="#6e6e6e" stroke-width="1" />
<line x1="692.2" y1="230.5" x2="692.2" y2="233.5" stroke="#6e6e6e" stroke-width="1" />
<line x1="710" y1="230.5" x2="710" y2="233.5" stroke="#6e6e6e" stroke-width="1" />
<line x1="727.8" y1="230.5" x2="727.8" y2="233.5" stroke="#6e6e6e" stroke-width="1" />
<line x1="745.6" y1="230.5" x2="745.6" y2="233.5" stroke="#6e6e6e" stroke-width="1" />
<line x1="763.4" y1="230.5" x2="763.4" y2="233.5" stroke="#6e6e6e" stroke-width="1" />
<text x="594.3" y="245.9" font-size="8.4" text-anchor="middle" >28</text>
<text x="612.1" y="245.9" font-size="8.4" text-anchor="middle" >28</text>
<text x="629.9" y="245.9" font-size="8.4" text-anchor="middle" >27</text>
<text x="647.7" y="245.9" font-size="8.4" text-anchor="middle" >26</text>
<text x="665.5" y="245.9" font-size="8.4" text-anchor="middle" >25</text>
<text x="683.3" y="245.9" font-size="8.4" text-anchor="middle" >24</text>
<text x="701.1" y="245.9" font-size="8.4" text-anchor="middle" >23</text>
<text x="718.9" y="245.9" font-size="8.4" text-anchor="middle" >22</text>
<text x="736.7" y="245.9" font-size="8.4" text-anchor="middle" >21</text>
<text x="754.5" y="245.9" font-size="8.4" text-anchor="middle" >20</text>
<text x="772.3" y="245.9" font-size="8.4" text-anchor="middle" >19</text>
<text x="551.7" y="245.9" font-size="8.4" text-anchor="start" textLength="30.4" lengthAdjust="spacingAndGlyphs">Baseline</text>
<text x="578.6" y="189.9" font-size="9.8" text-anchor="start" >condition: p &lt; 0.05</text>
<text x="578.6" y="201.3" font-size="9.8" text-anchor="start" >T<tspan font-size="6.5" dy="2.2">air</tspan><tspan dy="-2.2">: p &lt; 0.001</tspan></text>
<text x="578.6" y="213.7" font-size="9.8" text-anchor="start" >con x T<tspan font-size="6.5" dy="2.2">air</tspan><tspan dy="-2.2">: p &lt; 0.05</tspan></text>
<text x="657" y="261.9" font-size="9.3" text-anchor="start" >T<tspan font-size="6.5" dy="2.2">air</tspan><tspan dy="-2.2"> (</tspan><tspan font-size="6" dy="-3.2">o</tspan><tspan dy="3.2">C)</tspan></text>
<text transform="translate(537.5,128.7) rotate(-90)" x="0" y="0" font-size="13" text-anchor="middle" textLength="169" lengthAdjust="spacingAndGlyphs">Forehead temperature (<tspan font-size="8.5" dy="-4.5">o</tspan><tspan dy="4.5">C)</tspan></text>
<text x="534.5" y="12.8" font-size="16.8" text-anchor="start" >(c)</text>
<rect x="186.6" y="31.3" width="52.4" height="35.5" fill="#fff" stroke="#8a8a8a" stroke-width="1"/>
<line x1="192.2" y1="42.2" x2="213" y2="42.2" stroke="#555" stroke-width="0.9" />
<circle cx="192.2" cy="42.2" r="3.1" fill="#000"/>
<circle cx="202.7" cy="42.2" r="3.1" fill="#000"/>
<circle cx="213" cy="42.2" r="3.1" fill="#000"/>
<text x="218.6" y="45.8" font-size="10.4" text-anchor="start" >NC</text>
<line x1="192.2" y1="57.2" x2="213" y2="57.2" stroke="#0000ff" stroke-width="1.6" />
<polygon points="192.2,53.73 189.1,59.53 195.3,59.53" fill="#0000ff"/>
<polygon points="202.7,53.73 199.6,59.53 205.8,59.53" fill="#0000ff"/>
<polygon points="213,53.73 209.9,59.53 216.1,59.53" fill="#0000ff"/>
<text x="218.6" y="60.4" font-size="10.4" text-anchor="start" >HC</text>
<polyline points="620.4,53.9 620.4,46 764.4,46 764.4,53.9" fill="none" stroke="#7a7a7a" stroke-width="1"/>
<text x="693.1" y="44.3" font-size="11" text-anchor="middle" >*</text>
</svg>
</body></html>
